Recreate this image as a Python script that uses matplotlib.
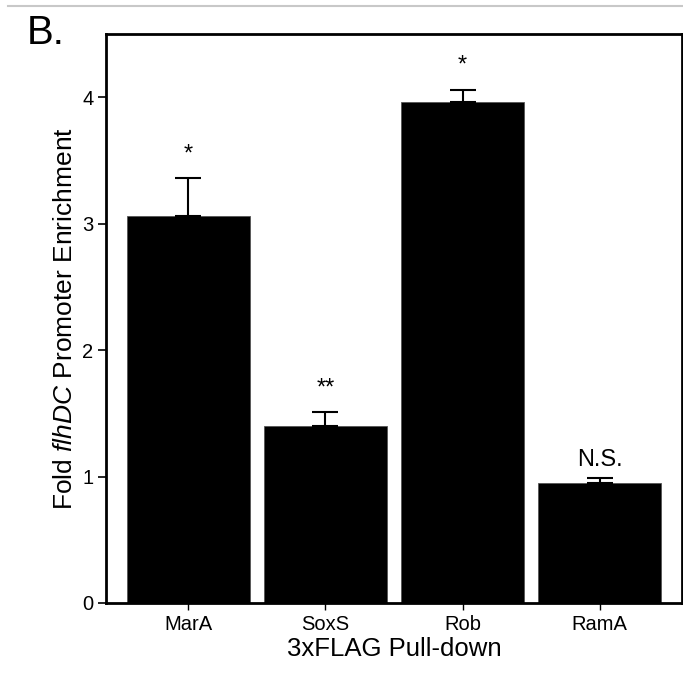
import matplotlib
matplotlib.use('Agg')
import matplotlib.pyplot as plt
from matplotlib.lines import Line2D

plt.rcParams['font.family'] = ['Liberation Sans', 'DejaVu Sans']
plt.rcParams['mathtext.fontset'] = 'custom'
plt.rcParams['mathtext.it'] = 'Liberation Sans:italic'
plt.rcParams['mathtext.rm'] = 'Liberation Sans'

# data
pulldowns = ['MarA', 'SoxS', 'Rob', 'RamA']
enrichment = [3.06, 1.40, 3.96, 0.95]
errors = [0.30, 0.11, 0.10, 0.04]
significance = ['*', '**', '*', 'N.S.']

fig = plt.figure(figsize=(6.83, 6.73), dpi=100)
ax = fig.add_axes([106 / 683, 70 / 673, 576 / 683, 569 / 673])

x = range(len(pulldowns))
ax.bar(x, enrichment, width=0.9, color='black', edgecolor='#555555', linewidth=0.6)
ax.errorbar(x, enrichment, yerr=[[0] * len(errors), errors], fmt='none',
            ecolor='black', elinewidth=1.5, capsize=9.7, capthick=1.5)

# significance marks above the error bars
for i, (v, e, s) in enumerate(zip(enrichment, errors, significance)):
    if s == 'N.S.':
        ax.text(i, v + e + 0.05, s, ha='center', va='bottom', fontsize=17)
    else:
        ax.text(i, v + e + 0.10, s, ha='center', va='bottom', fontsize=17)

ax.set_xlim(-0.6, 3.6)
ax.set_ylim(0, 4.5)
ax.set_yticks([0, 1, 2, 3, 4])
ax.set_xticks(list(x))
ax.set_xticklabels(pulldowns)
ax.tick_params(axis='x', length=5, width=1, labelsize=14.5, pad=4)
ax.tick_params(axis='y', length=6, width=1.2, labelsize=14.5, pad=3)
for sp in ax.spines.values():
    sp.set_linewidth(2)

ax.set_xlabel('3xFLAG Pull-down', fontsize=18.5, labelpad=2)
ax.set_ylabel('Fold $\\it{flhDC}$ Promoter Enrichment', fontsize=19, labelpad=4)

fig.text(27 / 683, 1 - 44 / 673, 'B.', fontsize=29, ha='left', va='baseline')
fig.add_artist(Line2D([8 / 683, 1], [1 - 6 / 673] * 2, color='#c8c8c8', lw=1.5))

fig.savefig('out.png', dpi=100)
